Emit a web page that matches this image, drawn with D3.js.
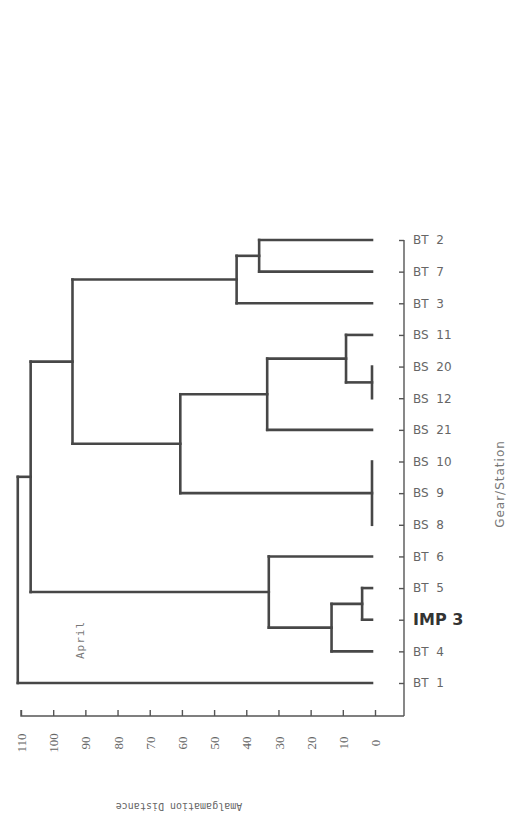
<html>
<head>
  <script src="https://d3js.org/d3.v7.min.js"></script>
  <style>
    body { margin: 0; background: #fff; }
    .link { fill: none; stroke: #474747; stroke-width: 2.6px; stroke-linecap: square; }
    .axis path, .axis line { stroke: #555; stroke-width: 1.4px; }
    .axis text { fill: #666; }
  </style>
</head>
<body>
<svg id="dendro" width="509" height="833"></svg>
<script>
// leaves, top to bottom
const leaves = ["BT 2", "BT 7", "BT 3", "BS 11", "BS 20", "BS 12", "BS 21",
                "BS 10", "BS 9", "BS 8", "BT 6", "BT 5", "IMP 3", "BT 4", "BT 1"];

// merges: [node, children, amalgamation distance]
const merges = [
  ["n1", ["BT 2", "BT 7"], 36],
  ["n2", ["n1", "BT 3"], 43],
  ["n3", ["BS 20", "BS 12"], 0],
  ["n4", ["BS 11", "n3"], 9],
  ["n5", ["n4", "BS 21"], 33.5],
  ["n6", ["BS 10", "BS 9", "BS 8"], 0],
  ["n7", ["n5", "n6"], 60.5],
  ["n8", ["n2", "n7"], 94],
  ["n9", ["BT 5", "IMP 3"], 4],
  ["n10", ["n9", "BT 4"], 13.5],
  ["n11", ["BT 6", "n10"], 33],
  ["n12", ["n8", "n11"], 107],
  ["n13", ["n12", "BT 1"], 111]
];

const distTicks = [0, 10, 20, 30, 40, 50, 60, 70, 80, 90, 100, 110];

const svg = d3.select("#dendro");

const x = d3.scaleLinear().domain([0, 110]).range([375, 21]);
const y = d3.scalePoint().domain(leaves).range([240, 683]);
// lines stop a touch short of zero, like the original
const xl = v => v === 0 ? x(0) - 3 : x(v);

// build the tree
const lookup = {};
leaves.forEach(l => lookup[l] = { name: l, height: 0 });
merges.forEach(m => {
  lookup[m[0]] = { name: m[0], height: m[2], children: m[1].map(c => lookup[c]) };
});
const root = d3.hierarchy(lookup["n13"]);

// node y: leaves from scale, inner nodes midway between outer children
root.eachAfter(d => {
  if (!d.children) d.yy = y(d.data.name);
  else d.yy = (d.children[0].yy + d.children[d.children.length - 1].yy) / 2;
});

const g = svg.append("g");

root.descendants().filter(d => d.children).forEach(d => {
  const kids = d.children;
  g.append("line").attr("class", "link")
    .attr("x1", xl(d.data.height)).attr("x2", xl(d.data.height))
    .attr("y1", kids[0].yy).attr("y2", kids[kids.length - 1].yy);
  kids.forEach(k => {
    if (d.data.height === 0) return;
    g.append("line").attr("class", "link")
      .attr("x1", xl(d.data.height)).attr("x2", xl(k.data.height))
      .attr("y1", k.yy).attr("y2", k.yy);
  });
});

// bottom axis
const xAxis = svg.append("g").attr("class", "axis")
  .attr("transform", "translate(0,716)")
  .call(d3.axisBottom(x).tickValues(distTicks).tickSize(-6).tickSizeOuter(0));
xAxis.select(".domain").attr("d", "M21,-6V0H404");
xAxis.selectAll(".tick text")
  .attr("transform", "translate(0,27) rotate(-90)")
  .attr("x", 0).attr("y", 0).attr("dy", "0.35em")
  .style("text-anchor", "middle")
  .style("font-family", "Liberation Serif").style("font-size", "13px");

// leaf axis
const yAxis = svg.append("g").attr("class", "axis")
  .attr("transform", "translate(404,0)")
  .call(d3.axisRight(y).tickSize(0).tickSizeOuter(0));
yAxis.select(".domain").attr("d", "M0,240V716");
yAxis.selectAll(".tick line").attr("x1", -5).attr("x2", 0);
yAxis.selectAll(".tick text")
  .attr("x", 9)
  .style("font-family", "DejaVu Sans")
  .style("font-size", d => d === "IMP 3" ? "16px" : "12px")
  .style("font-weight", d => d === "IMP 3" ? "bold" : "normal")
  .style("fill", d => d === "IMP 3" ? "#333" : "#666")
  .style("white-space", "pre")
  .text(d => d === "IMP 3" ? d : d.replace(" ", "  "));

// titles
svg.append("text")
  .attr("transform", "translate(500,484) rotate(-90)")
  .attr("text-anchor", "middle").attr("dy", "0.35em")
  .style("font-family", "DejaVu Sans").style("font-size", "12px")
  .style("letter-spacing", "1px").style("fill", "#777")
  .text("Gear/Station");

svg.append("text")
  .attr("transform", "translate(179,806) rotate(180)")
  .attr("text-anchor", "middle").attr("dy", "0.35em")
  .style("font-family", "DejaVu Sans Mono").style("font-size", "10px")
  .style("fill", "#666")
  .text("Amalgamation Distance");

svg.append("text")
  .attr("transform", "translate(80,640) rotate(-90)")
  .attr("text-anchor", "middle").attr("dy", "0.35em")
  .style("font-family", "DejaVu Sans Mono").style("font-size", "11px")
  .style("letter-spacing", "1px").style("fill", "#777")
  .text("April");
</script>
</body>
</html>
